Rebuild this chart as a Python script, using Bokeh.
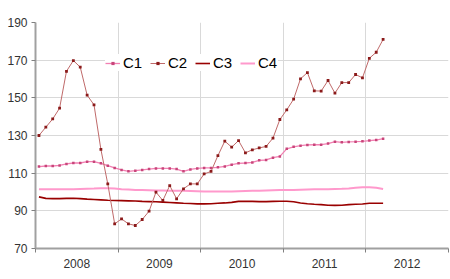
from bokeh.plotting import figure
from bokeh.models import FixedTicker, Legend, LegendItem, Range1d
from bokeh.embed import file_html
from bokeh.resources import INLINE

start_year = 2008
n_months = 51
years = [2008, 2009, 2010, 2011, 2012]
y_ticks = [70, 90, 110, 130, 150, 170, 190]

c1 = [113.5, 113.8, 113.8, 114.1, 114.9, 115.4, 115.4, 116.1, 116.1, 115.2, 114.0, 112.8,
      111.7, 111.0, 111.3, 111.7, 112.2, 112.5, 112.5, 112.5, 112.2, 111.0, 112.0, 112.5,
      112.8, 112.8, 113.1, 113.6, 114.5, 115.2, 115.4, 115.7, 116.8, 117.0, 118.2, 118.9,
      122.9, 124.0, 124.6, 125.0, 125.1, 125.1, 125.7, 126.7, 126.4, 126.6, 126.7, 126.9,
      127.3, 127.6, 128.3]
c2 = [130.0, 134.4, 138.8, 144.5, 164.1, 169.8, 166.3, 151.4, 146.3, 122.6, 104.3, 83.1,
      85.7, 83.1, 82.2, 85.4, 89.8, 99.9, 95.5, 103.4, 96.4, 101.7, 104.3, 104.3,
      109.6, 110.9, 119.3, 127.0, 123.8, 127.3, 120.8, 122.4, 123.4, 124.2, 128.6, 138.5,
      143.6, 149.3, 160.1, 163.4, 153.7, 153.6, 159.2, 152.5, 158.1, 158.1, 162.4, 160.6,
      171.0, 174.2, 181.0]
c3 = [97.4, 96.6, 96.5, 96.5, 96.6, 96.7, 96.5, 96.2, 96.0, 95.8, 95.6, 95.5,
      95.4, 95.3, 95.2, 95.0, 94.9, 94.8, 94.6, 94.4, 94.2, 94.0, 93.9, 93.7,
      93.7, 93.8, 94.0, 94.2, 94.5, 95.0, 95.1, 95.0, 94.9, 94.9, 95.0, 95.1,
      95.1, 94.8, 94.2, 93.8, 93.5, 93.3, 93.0, 92.9, 93.0, 93.3, 93.5, 93.6,
      94.0, 94.0, 94.0]
c4 = [101.5, 101.4, 101.4, 101.4, 101.4, 101.5, 101.6, 101.7, 101.8, 102.0, 102.0, 101.8,
      101.5, 101.3, 101.1, 101.0, 100.9, 100.8, 100.8, 100.7, 100.6, 100.6, 100.5, 100.4,
      100.3, 100.2, 100.2, 100.2, 100.3, 100.4, 100.5, 100.6, 100.7, 100.8, 100.9, 101.0,
      101.1, 101.1, 101.2, 101.3, 101.4, 101.4, 101.5, 101.6, 101.7, 101.9, 102.2, 102.5,
      102.5, 102.2, 101.6]

x = [start_year + (i + 0.5) / 12 for i in range(n_months)]

FONT = "Liberation Sans"

p = figure(width=450, height=279, output_backend="svg", toolbar_location=None,
           x_range=Range1d(2008, 2013), y_range=Range1d(70, 190),
           min_border_left=35, min_border_right=2, min_border_top=22, min_border_bottom=31)
p.outline_line_color = None
p.background_fill_color = "white"
p.border_fill_color = "white"

# x axis: labels at year centres, tick marks at year boundaries (minor ticks)
xt = FixedTicker(ticks=[y + 0.5 for y in years], minor_ticks=[2008, 2009, 2010, 2011, 2012, 2013])
p.xaxis.ticker = xt
p.xaxis.major_label_overrides = {y + 0.5: str(y) for y in years}
p.xaxis.major_tick_out = 0
p.xaxis.major_tick_in = 0
p.xaxis.minor_tick_out = 4
p.xaxis.minor_tick_in = 0
p.xaxis.minor_tick_line_color = "#808080"
p.xaxis.axis_line_color = "#a0a0a0"
p.xaxis.axis_line_width = 2
p.xaxis.major_label_standoff = 6
p.xaxis.major_label_text_font = FONT
p.xaxis.major_label_text_font_size = "12px"
p.xaxis.major_label_text_color = "#333333"

p.yaxis.ticker = FixedTicker(ticks=y_ticks)
p.yaxis.major_tick_out = 4
p.yaxis.major_tick_in = 0
p.yaxis.minor_tick_out = 0
p.yaxis.minor_tick_in = 0
p.yaxis.major_tick_line_color = "#808080"
p.yaxis.axis_line_color = "#a0a0a0"
p.yaxis.axis_line_width = 2
p.yaxis.major_label_standoff = 4
p.yaxis.major_label_text_font = FONT
p.yaxis.major_label_text_font_size = "12px"
p.yaxis.major_label_text_color = "#333333"

p.xgrid.ticker = FixedTicker(ticks=[2009, 2010, 2011, 2012, 2013])
p.xgrid.grid_line_color = "#d9d9d9"
p.ygrid.grid_line_color = "#d9d9d9"

l4 = p.line(x, c4, line_color="#ff99cc", line_width=2)
l3 = p.line(x, c3, line_color="#990000", line_width=1.6)
l1 = p.line(x, c1, line_color="#f27fb2", line_width=1.3)
s1 = p.scatter(x, c1, marker="square", size=2.5, fill_color="#c8457a", line_color=None)
l2 = p.line(x, c2, line_color="#c06a6a", line_width=1)
s2 = p.scatter(x, c2, marker="square", size=2.8, fill_color="#8b1a1a", line_color=None)

legend = Legend(items=[
    LegendItem(label="C1", renderers=[l1, s1]),
    LegendItem(label="C2", renderers=[l2, s2]),
    LegendItem(label="C3", renderers=[l3]),
    LegendItem(label="C4", renderers=[l4]),
], orientation="horizontal", location=(70, 177))
legend.label_text_font = FONT
legend.label_text_font_size = "15px"
legend.label_text_color = "#000000"
legend.border_line_color = None
legend.background_fill_color = "white"
legend.background_fill_alpha = 1
legend.padding = 2
legend.margin = 0
legend.spacing = 7
legend.glyph_width = 15
legend.glyph_height = 8
legend.label_standoff = 3
legend.label_height = 14
p.add_layout(legend, "center")

open("out.html", "w").write(file_html(p, INLINE))
